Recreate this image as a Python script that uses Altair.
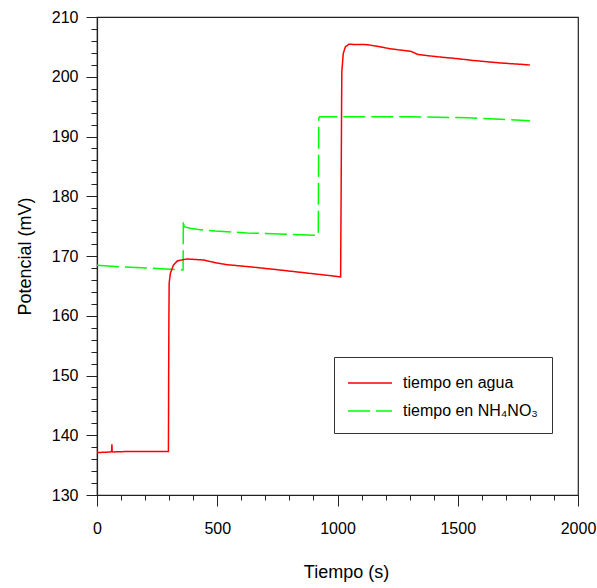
import altair as alt
import pandas as pd

# ---- data ----
series_names = ["tiempo en agua", "tiempo en NH₄NO₃"]
series_colors = ["#ff0000", "#00ff00"]
series_dashes = [[1, 0], [22, 6]]

agua_t = [0, 30, 58, 61, 62, 63, 66, 100, 150, 200, 250, 297, 298, 299, 300, 305, 318, 335,
          374, 443, 492, 540, 631, 735, 846, 957, 1013, 1015, 1017, 1018, 1024, 1033, 1047,
          1124, 1175, 1217, 1258, 1304, 1318, 1332, 1374, 1439, 1499, 1558, 1619, 1679,
          1745, 1800]
agua_v = [137.1, 137.15, 137.2, 137.4, 138.5, 137.3, 137.2, 137.25, 137.3, 137.3, 137.3, 137.3,
          150.0, 160.0, 165.4, 167.1, 168.5, 169.2, 169.5, 169.33, 168.88, 168.55, 168.21,
          167.77, 167.27, 166.77, 166.5, 180.0, 195.0, 200.85, 203.92, 205.03, 205.43,
          205.37, 205.03, 204.70, 204.48, 204.26, 204.03, 203.75, 203.53, 203.25, 203.03,
          202.75, 202.52, 202.30, 202.13, 201.97]

nh_t = [0, 96, 186, 304, 358, 359, 362, 387, 415, 492, 624, 804, 913, 920, 922, 925, 1100,
        1304, 1540, 1679, 1800]
nh_v = [168.44, 168.21, 168.05, 167.77, 167.66, 176.0, 174.9, 174.63, 174.46, 174.18, 173.85,
        173.63, 173.46, 173.45, 193.0, 193.32, 193.32, 193.3, 193.15, 192.87, 192.65]

x_ticks = list(range(0, 2001, 100))
y_ticks = list(range(130, 211, 2))

FONT = "Liberation Sans"

df_agua = pd.DataFrame({"t": agua_t, "v": agua_v, "serie": series_names[0]})
df_nh = pd.DataFrame({"t": nh_t, "v": nh_v, "serie": series_names[1]})

legend = alt.Legend(
    title=None, orient="none", legendX=237, legendY=340,
    symbolType="M-2,0H2", symbolSize=484, symbolStrokeWidth=1.5, symbolOffset=10,
    labelOffset=21, padding=14, rowPadding=8,
    strokeColor="#333333", fillColor="white",
    labelFont=FONT, labelFontSize=16, labelColor="black", labelLimit=400,
)

x_enc = alt.X(
    "t:Q",
    scale=alt.Scale(domain=[0, 2000], nice=False, zero=False),
    axis=alt.Axis(
        title="Tiempo (s)", values=x_ticks, format="d",
        labelExpr="datum.value % 500 === 0 ? datum.label : ''",
        tickSize=11,
        tickDash={"condition": {"test": "datum.value % 500 === 0", "value": [11, 0]},
                  "value": [5, 20]},
        labelFlush=False, labelOverlap=False, labelPadding=14,
        grid=False, titlePadding=27, titleX=249,
    ),
)
y_enc = alt.Y(
    "v:Q",
    scale=alt.Scale(domain=[130, 210], nice=False, zero=False),
    axis=alt.Axis(
        title="Potencial (mV)", values=y_ticks, format="d",
        labelExpr="datum.value % 10 === 0 ? datum.label : ''",
        tickSize=11,
        tickDash={"condition": {"test": "datum.value % 10 === 0", "value": [11, 0]},
                  "value": [6, 20]},
        labelFlush=False, labelOverlap=False, labelPadding=8,
        grid=False, titlePadding=17,
    ),
)
color_enc = alt.Color("serie:N", scale=alt.Scale(domain=series_names, range=series_colors),
                      legend=legend)
dash_enc = alt.StrokeDash("serie:N", scale=alt.Scale(domain=series_names, range=series_dashes),
                          legend=legend)

green = alt.Chart(df_nh).mark_line(strokeWidth=1.5).encode(
    x=x_enc, y=y_enc, color=color_enc, strokeDash=dash_enc)
red = alt.Chart(df_agua).mark_line(strokeWidth=1.5).encode(
    x=x_enc, y=y_enc, color=color_enc, strokeDash=dash_enc)

chart = alt.layer(green, red).properties(
    width=481, height=478,
    autosize=alt.AutoSizeParams(type="none"),
    padding={"left": 97, "top": 17, "right": 19, "bottom": 93},
    background="white",
).configure_view(
    stroke="#222222", strokeWidth=1.2
).configure_axis(
    domainColor="#222222", domainWidth=1.2, tickColor="#222222", tickWidth=1,
    labelFont=FONT, labelFontSize=16, labelColor="black",
    titleFont=FONT, titleFontSize=18, titleFontWeight="normal", titleColor="black",
)

chart.save("out.html", embed_options={"renderer": "svg", "actions": False})
